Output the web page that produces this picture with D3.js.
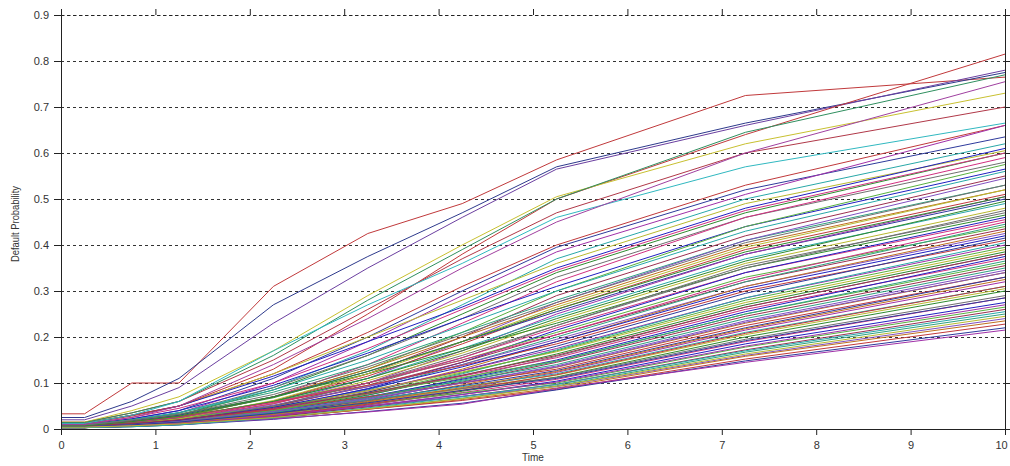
<!DOCTYPE html>
<html>
<head>
<meta charset="utf-8">
<script src="https://cdn.jsdelivr.net/npm/d3@7"></script>
<style>
  html, body { margin: 0; padding: 0; background: #fff; }
  svg { display: block; }
  text { font-family: "Liberation Sans", Arial, sans-serif; }
</style>
</head>
<body>
<svg id="chart" width="1010" height="466"></svg>
<script>
// ---- data ----
const times = [0, 0.25, 0.75, 1.25, 2.25, 3.25, 4.25, 5.25, 7.25, 10];
const xTicks = [0, 1, 2, 3, 4, 5, 6, 7, 8, 9, 10];
const yTicks = [0, 0.1, 0.2, 0.3, 0.4, 0.5, 0.6, 0.7, 0.8, 0.9];

// upper outlying curves
const topCurves = [
  [0.033,0.033,0.10,0.10,0.31,0.425,0.49,0.585,0.725,0.765],
  [0.025,0.025,0.06,0.11,0.27,0.375,0.47,0.57,0.665,0.775],
  [0.020,0.020,0.05,0.09,0.23,0.35,0.46,0.565,0.66,0.78],
  [0.012,0.012,0.03,0.05,0.13,0.25,0.38,0.50,0.64,0.815],
  [0.015,0.015,0.035,0.06,0.15,0.26,0.37,0.47,0.60,0.70],
  [0.015,0.015,0.04,0.07,0.17,0.29,0.40,0.505,0.62,0.73],
  [0.014,0.014,0.035,0.06,0.16,0.28,0.39,0.50,0.645,0.77],
  [0.012,0.012,0.03,0.06,0.17,0.27,0.36,0.46,0.57,0.665],
  [0.010,0.010,0.025,0.05,0.14,0.24,0.35,0.45,0.60,0.755]
];

// main band of curves
const bandCurves = [
  [0.012,0.012,0.028,0.05,0.12,0.21,0.31,0.40,0.53,0.66],
  [0.010,0.010,0.022,0.04,0.11,0.20,0.30,0.395,0.52,0.635],
  [0.008,0.008,0.020,0.035,0.10,0.19,0.29,0.385,0.51,0.66],
  [0.009,0.009,0.018,0.03,0.09,0.17,0.27,0.37,0.50,0.62],
  [0.014,0.014,0.030,0.05,0.12,0.20,0.28,0.36,0.49,0.605],
  [0.007,0.007,0.015,0.03,0.085,0.16,0.25,0.34,0.47,0.60],
  [0.008,0.008,0.020,0.035,0.09,0.16,0.24,0.33,0.46,0.58],
  [0.006,0.006,0.014,0.025,0.07,0.14,0.23,0.32,0.46,0.59],
  [0.010,0.010,0.022,0.04,0.095,0.165,0.24,0.31,0.44,0.565],
  [0.006,0.006,0.013,0.025,0.07,0.13,0.21,0.30,0.44,0.575],
  [0.005,0.005,0.012,0.02,0.06,0.12,0.20,0.29,0.42,0.55],
  [0.009,0.009,0.020,0.035,0.08,0.14,0.21,0.28,0.41,0.53],
  [0.004,0.004,0.010,0.02,0.055,0.11,0.19,0.275,0.41,0.545],
  [0.007,0.007,0.016,0.028,0.07,0.13,0.20,0.27,0.40,0.52],
  [0.005,0.005,0.012,0.022,0.06,0.115,0.185,0.26,0.39,0.51],
  [0.008,0.008,0.018,0.03,0.07,0.125,0.19,0.255,0.38,0.50],
  [0.004,0.004,0.010,0.018,0.05,0.10,0.17,0.25,0.38,0.505],
  [0.006,0.006,0.013,0.024,0.06,0.11,0.175,0.245,0.37,0.49],
  [0.005,0.005,0.011,0.02,0.055,0.105,0.165,0.235,0.36,0.48],
  [0.009,0.009,0.020,0.032,0.07,0.12,0.175,0.23,0.35,0.465],
  [0.004,0.004,0.009,0.017,0.048,0.095,0.155,0.225,0.35,0.475],
  [0.006,0.006,0.013,0.022,0.055,0.10,0.155,0.22,0.34,0.455],
  [0.003,0.003,0.008,0.015,0.043,0.088,0.145,0.215,0.34,0.46],
  [0.007,0.007,0.015,0.026,0.06,0.10,0.15,0.21,0.33,0.44],
  [0.005,0.005,0.011,0.02,0.05,0.092,0.145,0.205,0.32,0.435],
  [0.004,0.004,0.009,0.016,0.044,0.085,0.14,0.20,0.32,0.445],
  [0.006,0.006,0.013,0.022,0.052,0.092,0.14,0.195,0.31,0.425],
  [0.003,0.003,0.007,0.014,0.04,0.08,0.13,0.19,0.31,0.43],
  [0.008,0.008,0.016,0.027,0.058,0.095,0.138,0.185,0.30,0.41],
  [0.004,0.004,0.009,0.016,0.042,0.08,0.127,0.18,0.295,0.415],
  [0.005,0.005,0.011,0.019,0.046,0.083,0.127,0.175,0.285,0.40],
  [0.003,0.003,0.007,0.013,0.037,0.073,0.12,0.172,0.285,0.405],
  [0.006,0.006,0.012,0.021,0.048,0.083,0.124,0.168,0.275,0.39],
  [0.004,0.004,0.009,0.016,0.04,0.074,0.116,0.163,0.27,0.385],
  [0.003,0.003,0.007,0.012,0.034,0.068,0.11,0.158,0.265,0.38],
  [0.005,0.005,0.010,0.018,0.043,0.076,0.115,0.155,0.26,0.37],
  [0.004,0.004,0.008,0.015,0.038,0.07,0.108,0.15,0.255,0.375],
  [0.007,0.007,0.014,0.023,0.048,0.078,0.112,0.148,0.25,0.36],
  [0.003,0.003,0.006,0.012,0.032,0.063,0.102,0.145,0.245,0.355],
  [0.005,0.005,0.010,0.017,0.04,0.07,0.104,0.14,0.24,0.35],
  [0.004,0.004,0.008,0.014,0.035,0.065,0.10,0.137,0.235,0.345],
  [0.003,0.003,0.006,0.011,0.03,0.06,0.096,0.134,0.23,0.34],
  [0.006,0.006,0.012,0.02,0.042,0.07,0.10,0.13,0.225,0.33],
  [0.004,0.004,0.008,0.014,0.034,0.062,0.094,0.127,0.22,0.33],
  [0.003,0.003,0.006,0.011,0.029,0.056,0.088,0.123,0.215,0.32],
  [0.005,0.005,0.010,0.016,0.037,0.063,0.092,0.12,0.21,0.31],
  [0.004,0.004,0.008,0.013,0.032,0.058,0.087,0.117,0.205,0.305],
  [0.003,0.003,0.006,0.010,0.027,0.052,0.082,0.113,0.20,0.30],
  [0.006,0.006,0.011,0.018,0.038,0.062,0.088,0.112,0.195,0.29],
  [0.004,0.004,0.007,0.012,0.029,0.053,0.079,0.108,0.19,0.285],
  [0.003,0.003,0.006,0.010,0.026,0.049,0.075,0.104,0.185,0.275],
  [0.005,0.005,0.009,0.015,0.033,0.055,0.078,0.10,0.178,0.265],
  [0.004,0.004,0.007,0.011,0.027,0.048,0.071,0.097,0.172,0.26],
  [0.003,0.003,0.005,0.009,0.023,0.044,0.067,0.094,0.167,0.25],
  [0.005,0.005,0.009,0.014,0.03,0.05,0.071,0.092,0.16,0.24],
  [0.003,0.003,0.006,0.010,0.024,0.043,0.064,0.089,0.158,0.235],
  [0.004,0.004,0.007,0.011,0.025,0.043,0.062,0.086,0.152,0.228],
  [0.003,0.003,0.005,0.009,0.021,0.038,0.056,0.085,0.148,0.22],
  [0.004,0.004,0.006,0.010,0.022,0.037,0.054,0.088,0.145,0.215],
  [0.008,0.008,0.020,0.036,0.085,0.15,0.225,0.30,0.43,0.56],
  [0.005,0.005,0.012,0.022,0.062,0.12,0.19,0.265,0.395,0.52],
  [0.006,0.006,0.014,0.025,0.06,0.11,0.17,0.24,0.365,0.495],
  [0.004,0.004,0.010,0.018,0.05,0.10,0.16,0.225,0.355,0.47],
  [0.007,0.007,0.015,0.025,0.058,0.10,0.15,0.205,0.325,0.45],
  [0.005,0.005,0.011,0.019,0.047,0.087,0.135,0.19,0.305,0.42],
  [0.004,0.004,0.009,0.015,0.04,0.077,0.122,0.17,0.28,0.395],
  [0.006,0.006,0.012,0.02,0.045,0.078,0.117,0.16,0.265,0.38],
  [0.003,0.003,0.007,0.013,0.035,0.067,0.106,0.147,0.25,0.365],
  [0.005,0.005,0.009,0.016,0.038,0.066,0.10,0.135,0.232,0.34],
  [0.004,0.004,0.008,0.013,0.032,0.059,0.09,0.125,0.218,0.325],
  [0.003,0.003,0.006,0.011,0.028,0.054,0.084,0.118,0.208,0.31],
  [0.005,0.005,0.009,0.015,0.034,0.057,0.084,0.11,0.192,0.285],
  [0.004,0.004,0.007,0.012,0.028,0.05,0.075,0.102,0.18,0.27],
  [0.003,0.003,0.005,0.009,0.024,0.046,0.07,0.097,0.17,0.255],
  [0.004,0.004,0.007,0.011,0.025,0.044,0.066,0.093,0.163,0.245],
  [0.007,0.007,0.016,0.028,0.068,0.125,0.19,0.26,0.385,0.505],
  [0.009,0.009,0.019,0.032,0.075,0.135,0.205,0.275,0.405,0.53],
  [0.011,0.011,0.025,0.045,0.10,0.175,0.26,0.345,0.475,0.60],
  [0.012,0.012,0.030,0.05,0.115,0.19,0.265,0.35,0.48,0.61]
];

const topColors = ["#c0393b","#2e3a8c","#6b3fa0","#c0393b","#b03848","#c8c030","#2f8f5f","#30b8c0","#a040a0"];
const bandColors = ["#c0393b","#2e3a9c","#a030a8","#28a8a8","#b8b830","#2f8a2f","#707070","#d03080","#2020c0","#58b040","#9a3050","#30a080","#8050c0","#c07020"];

// ---- chart ----
const W = 1010, H = 466;
const margin = {left: 61, right: 5, top: 15, bottom: 37};
const svg = d3.select("#chart");
const x = d3.scaleLinear().domain([0, 10]).range([margin.left, W - margin.right]);
const y = d3.scaleLinear().domain([0, 0.9]).range([H - margin.bottom, margin.top]);

// grid lines
svg.append("g").selectAll("line").data(yTicks.filter(d => d > 0)).join("line")
  .attr("x1", x(0)).attr("x2", x(10))
  .attr("y1", d => y(d)).attr("y2", d => y(d))
  .attr("stroke", "#333").attr("stroke-width", 1)
  .attr("stroke-dasharray", "3,3").attr("shape-rendering", "crispEdges");

// curves
const line = d3.line().x((d, i) => x(times[i])).y(d => y(d));
const series = bandCurves.map((c, i) => ({v: c, color: bandColors[i % bandColors.length]}))
  .concat(topCurves.map((c, i) => ({v: c, color: topColors[i]})));
svg.append("g").selectAll("path").data(series).join("path")
  .attr("d", d => line(d.v))
  .attr("fill", "none")
  .attr("stroke", d => d.color)
  .attr("stroke-width", 1);

// axes
const axisStyle = g => {
  g.selectAll("path.domain").attr("stroke", "#222");
  g.selectAll(".tick line").attr("stroke", "#222");
  g.selectAll(".tick text").attr("fill", "#333").style("font-size", "11px")
    .style("font-family", "'Liberation Sans', Arial, sans-serif");
};
svg.append("g").attr("transform", `translate(0,${y(0)})`)
  .call(d3.axisBottom(x).tickValues(xTicks).tickFormat(d3.format("d")).tickSize(6).tickSizeOuter(0).tickPadding(6))
  .call(axisStyle)
  .call(g => g.selectAll(".tick text").filter(d => d === 10).attr("dx", "-4"));
svg.append("g").attr("transform", `translate(0,${y(0.9)})`)
  .call(d3.axisTop(x).tickValues(xTicks).tickFormat("").tickSize(6).tickSizeOuter(0))
  .call(axisStyle)
  .call(g => g.select("path.domain").attr("stroke-dasharray", "3,3"));
svg.append("g").attr("transform", `translate(${x(0)},0)`)
  .call(d3.axisLeft(y).tickValues(yTicks).tickFormat(d => d === 0 ? "0" : d3.format(".1f")(d)).tickSize(7).tickSizeOuter(0).tickPadding(5))
  .call(axisStyle);
svg.append("g").attr("transform", `translate(${x(10)},0)`)
  .call(d3.axisRight(y).tickValues(yTicks).tickFormat("").tickSize(5).tickSizeOuter(0))
  .call(axisStyle);

// axis titles
svg.append("text").attr("x", x(5)).attr("y", 461)
  .attr("text-anchor", "middle").attr("fill", "#333")
  .style("font-size", "10px").text("Time");
svg.append("text")
  .attr("transform", `translate(19,${(y(0) + y(0.9)) / 2 + 2}) rotate(-90)`)
  .attr("text-anchor", "middle").attr("fill", "#333")
  .attr("textLength", 76).attr("lengthAdjust", "spacingAndGlyphs")
  .style("font-size", "11px").text("Default Probability");
</script>
</body>
</html>
